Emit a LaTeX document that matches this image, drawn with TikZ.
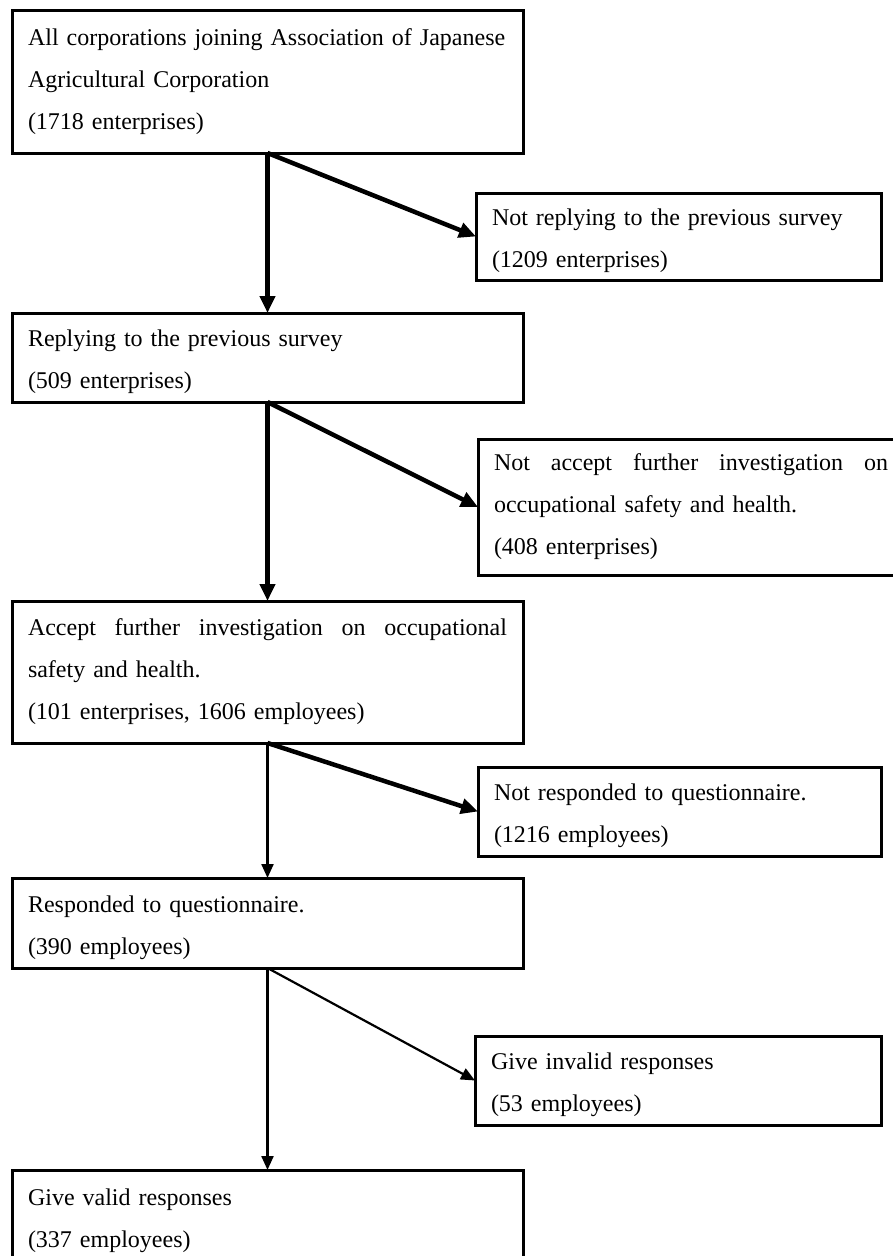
\documentclass[tikz,border=0pt]{standalone}
\usepackage{fontspec}
\setmainfont{Liberation Serif}
\usetikzlibrary{arrows.meta}

\begin{document}
\begin{tikzpicture}[
    x=1pt, y=-1pt,
    box/.style={draw, line width=3pt, outer sep=0pt, anchor=north west,
        inner xsep=16pt, inner ysep=0pt, align=left,
        font=\fontsize{24}{42}\selectfont},
    lower/.style={execute at begin node={\rule{0pt}{26pt}}},
    heavy/.style={line width=4.5pt, -{Triangle[length=17pt, width=15pt]}},
    light/.style={line width=2.2pt, -{Triangle[length=14pt, width=12pt]}}
]
    \useasboundingbox (0,0) rectangle (893,1256);
    \clip (0,0) rectangle (893,1256);

    % main column (left)
    \node[box, text width=479pt, minimum height=143pt] (all) at (12,10)
        {All corporations joining Association of Japanese\\ Agricultural Corporation\\ (1718 enterprises)};
    \node[box, lower, text width=479pt, minimum height=89pt] (reply) at (12,313)
        {Replying to the previous survey\\ (509 enterprises)};
    \node[box, text width=479pt, minimum height=142pt] (accept) at (12,601)
        {\hbox to 479pt{Accept\hfill further\hfill investigation\hfill on\hfill occupational}\\ safety and health.\\ (101 enterprises, 1606 employees)};
    \node[box, lower, text width=479pt, minimum height=90pt] (resp) at (12,878)
        {Responded to questionnaire.\\ (390 employees)};
    \node[box, lower, text width=479pt, minimum height=92pt] (valid) at (12,1170)
        {Give valid responses\\ (337 employees)};

    % excluded (right)
    \node[box, lower, text width=373pt, minimum height=87pt] (noreply) at (476,193)
        {Not replying to the previous survey\\ (1209 enterprises)};
    \node[box, text width=394pt, minimum height=136pt] (noaccept) at (478,439)
        {\hbox to 394pt{Not\hfill accept\hfill further\hfill investigation\hfill on}\\ occupational safety and health.\\ (408 enterprises)};
    \node[box, lower, text width=371pt, minimum height=89pt] (noresp) at (478,767)
        {Not responded to questionnaire.\\ (1216 employees)};
    \node[box, lower, text width=374pt, minimum height=89pt] (invalid) at (475,1036)
        {Give invalid responses\\ (53 employees)};

    % arrows
    \draw[heavy] (all.south) -- (reply.north);
    \draw[heavy] (all.south) -- (noreply.west);
    \draw[heavy] (reply.south) -- (accept.north);
    \draw[heavy] (reply.south) -- (noaccept.west);
    \draw[light] (accept.south) -- (resp.north);
    \draw[heavy] (accept.south) -- (noresp.west);
    \draw[light] (resp.south) -- (valid.north);
    \draw[light] (resp.south) -- (invalid.west);

\end{tikzpicture}
\end{document}
